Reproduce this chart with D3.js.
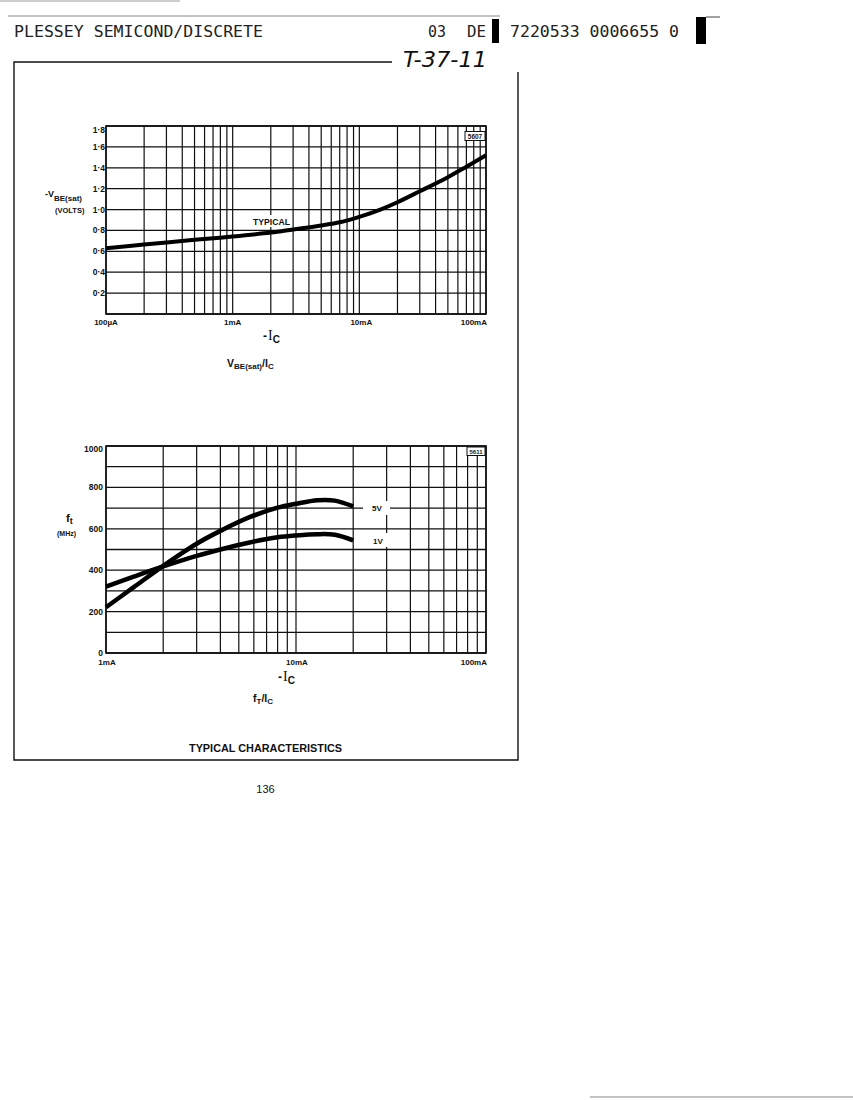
<!DOCTYPE html>
<html>
<head>
<meta charset="utf-8">
<script src="https://d3js.org/d3.v7.min.js"></script>
<style>
  body { margin: 0; background: #fff; }
  text { fill: #111; }
  .lbl { font-family: "Liberation Sans", Arial, sans-serif; font-weight: bold; }
  .hdr { font-family: "DejaVu Sans Mono", "Liberation Mono", monospace; fill: #222; }
</style>
</head>
<body>
<svg id="page" width="853" height="1100"></svg>
<script>
// ---- data ----
// V_BE(sat) vs I_C (current in mA)
const vbeCurrent = [0.1, 0.2, 0.5, 1, 2, 3, 5, 7, 10, 15, 20, 30, 50, 70, 100];
const vbeSat     = [0.63, 0.665, 0.71, 0.742, 0.78, 0.81, 0.848, 0.878, 0.93, 1.005, 1.07, 1.175, 1.31, 1.41, 1.52];

// fT vs I_C (current in mA)
const ftCurrent = [1, 1.4, 2, 3, 4, 5.7, 8, 10, 13, 16, 20];
const ft5V      = [221, 318, 421, 528, 590, 656, 702, 721, 738, 736, 708];
const ft1V      = [321, 369, 418, 469, 500, 534, 559, 568, 574, 571, 544];

// axis ticks / labels
const vbeTicks  = [0.2, 0.4, 0.6, 0.8, 1.0, 1.2, 1.4, 1.6, 1.8];
const vbeTickLabels = ["0·2", "0·4", "0·6", "0·8", "1·0", "1·2", "1·4", "1·6", "1·8"];
const vbeGridY  = [0, 0.2, 0.4, 0.6, 0.8, 1.0, 1.2, 1.4, 1.6, 1.8];
const topXTicks = [0.1, 1, 10, 100];
const topXLabels = ["100µA", "1mA", "10mA", "100mA"];

const ftTicks   = [0, 200, 400, 600, 800, 1000];
const ftGridY   = [0, 100, 200, 300, 400, 500, 600, 700, 800, 900, 1000];
const botXTicks = [1, 10, 100];
const botXLabels = ["1mA", "10mA", "100mA"];

const mantissas = [1, 2, 3, 4, 5, 6, 7, 8, 9];

const svg = d3.select("#page");
svg.append("rect").attr("width", 853).attr("height", 1100).attr("fill", "#fff");

// ---- page header ----
svg.append("line").attr("x1", 8).attr("x2", 500).attr("y1", 16).attr("y2", 16)
    .attr("stroke", "#888").attr("stroke-width", 1.2);
svg.append("line").attr("x1", 0).attr("x2", 180).attr("y1", 1).attr("y2", 1)
    .attr("stroke", "#999").attr("stroke-width", 1);

svg.append("text").attr("class", "hdr").attr("x", 14).attr("y", 37)
    .attr("font-size", 16.5).attr("textLength", 249).attr("lengthAdjust", "spacingAndGlyphs")
    .text("PLESSEY SEMICOND/DISCRETE");
svg.append("text").attr("class", "hdr").attr("x", 428).attr("y", 37)
    .attr("font-size", 16.5).attr("textLength", 18).attr("lengthAdjust", "spacingAndGlyphs").text("03");
svg.append("text").attr("class", "hdr").attr("x", 467).attr("y", 37)
    .attr("font-size", 16.5).attr("textLength", 19).attr("lengthAdjust", "spacingAndGlyphs").text("DE");
svg.append("rect").attr("x", 492).attr("y", 19).attr("width", 7).attr("height", 24).attr("fill", "#000");
svg.append("text").attr("class", "hdr").attr("x", 510).attr("y", 37)
    .attr("font-size", 16.5).attr("textLength", 169).attr("lengthAdjust", "spacingAndGlyphs")
    .text("7220533 0006655 0");
svg.append("rect").attr("x", 696).attr("y", 17).attr("width", 10).attr("height", 27).attr("fill", "#000");
svg.append("line").attr("x1", 706).attr("x2", 720).attr("y1", 17).attr("y2", 17)
    .attr("stroke", "#444").attr("stroke-width", 1);

// handwritten reference
svg.append("text").attr("x", 403).attr("y", 67)
    .attr("font-family", "DejaVu Sans, sans-serif").attr("font-style", "oblique")
    .attr("font-size", 22).attr("textLength", 84).attr("lengthAdjust", "spacingAndGlyphs")
    .text("T-37-11");

// ---- frame ----
const frame = svg.append("g").attr("stroke", "#111").attr("stroke-width", 1.4).attr("fill", "none");
frame.append("path").attr("d", "M392,62 H14 V760 H518 V72");

// ---- helpers ----
function logGrid(g, x, y, lo, hi, y0, y1) {
    const vals = [];
    for (let dec = lo; dec < hi; dec *= 10) mantissas.forEach(m => vals.push(m * dec));
    vals.push(hi);
    g.selectAll(null).data(vals).enter().append("line")
        .attr("x1", d => x(d)).attr("x2", d => x(d))
        .attr("y1", y0).attr("y2", y1)
        .attr("stroke", "#111").attr("stroke-width", 1.2);
}

function hGrid(g, x, y, vals, xa, xb) {
    g.selectAll(null).data(vals).enter().append("line")
        .attr("x1", xa).attr("x2", xb)
        .attr("y1", d => y(d)).attr("y2", d => y(d))
        .attr("stroke", "#111").attr("stroke-width", 1.3);
}

// ============ chart 1 : VBE(sat) / IC ============
const c1 = { left: 106, right: 486, top: 126, bottom: 314 };
const x1 = d3.scaleLog().domain([0.1, 100]).range([c1.left, c1.right]);
const y1 = d3.scaleLinear().domain([0, 1.8]).range([c1.bottom, c1.top]);

const g1 = svg.append("g");
logGrid(g1, x1, y1, 0.1, 100, c1.top, c1.bottom);
hGrid(g1, x1, y1, vbeGridY, c1.left, c1.right);
g1.append("rect").attr("x", c1.left).attr("y", c1.top)
    .attr("width", c1.right - c1.left).attr("height", c1.bottom - c1.top)
    .attr("fill", "none").attr("stroke", "#111").attr("stroke-width", 1.6);

// y tick labels
g1.selectAll(null).data(vbeTicks).enter().append("text")
    .attr("class", "lbl").attr("font-size", 8.5).attr("text-anchor", "end")
    .attr("x", c1.left - 1)
    .attr("y", d => Math.max(y1(d), c1.top + 4) + 3)
    .text((d, i) => vbeTickLabels[i]);

// x tick labels
g1.selectAll(null).data(topXTicks).enter().append("text")
    .attr("class", "lbl").attr("font-size", 8)
    .attr("text-anchor", (d, i) => i === topXTicks.length - 1 ? "end" : "middle")
    .attr("x", (d, i) => i === topXTicks.length - 1 ? c1.right + 1 : x1(d) + (i === 2 ? 2 : 0))
    .attr("y", 325)
    .text((d, i) => topXLabels[i]);

// curve
const line1 = d3.line().x(d => x1(d[0])).y(d => y1(d[1])).curve(d3.curveCatmullRom.alpha(0.5));
g1.append("path")
    .attr("d", line1(vbeCurrent.map((c, i) => [c, vbeSat[i]])))
    .attr("fill", "none").attr("stroke", "#000").attr("stroke-width", 4);

// TYPICAL label
g1.append("rect").attr("x", 251).attr("y", 215).attr("width", 40).attr("height", 12).attr("fill", "#fff");
g1.append("text").attr("class", "lbl").attr("font-size", 8.5).attr("x", 253).attr("y", 224.5)
    .attr("textLength", 37).attr("lengthAdjust", "spacingAndGlyphs").text("TYPICAL");

// figure number box
g1.append("rect").attr("x", 465).attr("y", 131.5).attr("width", 20).attr("height", 9)
    .attr("fill", "#fff").attr("stroke", "#111").attr("stroke-width", 1);
g1.append("text").attr("class", "lbl").attr("font-size", 6.5).attr("x", 475).attr("y", 138.5)
    .attr("text-anchor", "middle").text("5607");

// axis titles
const t1 = g1.append("text").attr("class", "lbl").attr("x", 45).attr("y", 197);
t1.append("tspan").attr("font-size", 9).text("-V");
t1.append("tspan").attr("font-size", 8).attr("dy", 4).text("BE(sat)");
g1.append("text").attr("class", "lbl").attr("font-size", 7.5).attr("x", 55).attr("y", 213).text("(VOLTS)");

const ic1 = g1.append("text").attr("x", 263).attr("y", 340);
ic1.append("tspan").attr("class", "lbl").attr("font-size", 12).text("-");
ic1.append("tspan").attr("font-family", "Liberation Serif, serif").attr("font-size", 14).attr("dx", 1).text("I");
ic1.append("tspan").attr("class", "lbl").attr("font-size", 10).attr("dy", 3).text("C");

const cap1 = g1.append("text").attr("class", "lbl").attr("x", 227).attr("y", 367);
cap1.append("tspan").attr("font-size", 10.5).text("V");
cap1.append("tspan").attr("font-size", 8).attr("dy", 2).text("BE(sat)");
cap1.append("tspan").attr("font-size", 10.5).attr("dy", -2).text("/I");
cap1.append("tspan").attr("font-size", 8).attr("dy", 2).text("C");

// ============ chart 2 : fT / IC ============
const c2 = { left: 106, right: 486, top: 446, bottom: 653 };
const x2 = d3.scaleLog().domain([1, 100]).range([c2.left, c2.right]);
const y2 = d3.scaleLinear().domain([0, 1000]).range([c2.bottom, c2.top]);

const g2 = svg.append("g");
logGrid(g2, x2, y2, 1, 100, c2.top, c2.bottom);
hGrid(g2, x2, y2, ftGridY, c2.left, c2.right);
g2.append("rect").attr("x", c2.left).attr("y", c2.top)
    .attr("width", c2.right - c2.left).attr("height", c2.bottom - c2.top)
    .attr("fill", "none").attr("stroke", "#111").attr("stroke-width", 1.6);

g2.selectAll(null).data(ftTicks).enter().append("text")
    .attr("class", "lbl").attr("font-size", 8.5).attr("text-anchor", "end")
    .attr("x", c2.left - 3)
    .attr("y", d => Math.max(y2(d), c2.top + 3) + 3)
    .text(d => d);

g2.selectAll(null).data(botXTicks).enter().append("text")
    .attr("class", "lbl").attr("font-size", 8)
    .attr("text-anchor", (d, i) => i === botXTicks.length - 1 ? "end" : "middle")
    .attr("x", (d, i) => i === botXTicks.length - 1 ? c2.right + 1 : x2(d) + 1)
    .attr("y", 665)
    .text((d, i) => botXLabels[i]);

const line2 = d3.line().x(d => x2(d[0])).y(d => y2(d[1])).curve(d3.curveCatmullRom.alpha(0.5));
[ft5V, ft1V].forEach(series => {
    g2.append("path")
        .attr("d", line2(ftCurrent.map((c, i) => [c, series[i]])))
        .attr("fill", "none").attr("stroke", "#000").attr("stroke-width", 4.5);
});

// series labels with white knock-out boxes
g2.append("rect").attr("x", 363).attr("y", 501).attr("width", 27).attr("height", 14).attr("fill", "#fff");
g2.append("rect").attr("x", 363).attr("y", 533).attr("width", 28).attr("height", 14).attr("fill", "#fff");
g2.append("text").attr("class", "lbl").attr("font-size", 8).attr("x", 372).attr("y", 511).text("5V");
g2.append("text").attr("class", "lbl").attr("font-size", 8).attr("x", 373).attr("y", 544).text("1V");

g2.append("rect").attr("x", 467).attr("y", 447).attr("width", 18).attr("height", 8.5)
    .attr("fill", "#fff").attr("stroke", "#111").attr("stroke-width", 1);
g2.append("text").attr("class", "lbl").attr("font-size", 6).attr("x", 476).attr("y", 453.5)
    .attr("text-anchor", "middle").text("5611");

const t2 = g2.append("text").attr("class", "lbl").attr("x", 66).attr("y", 522);
t2.append("tspan").attr("font-size", 11.5).text("f");
t2.append("tspan").attr("font-size", 9).attr("dy", 2).text("t");
g2.append("text").attr("class", "lbl").attr("font-size", 7).attr("x", 57).attr("y", 536).text("(MHz)");

const ic2 = g2.append("text").attr("x", 278).attr("y", 681);
ic2.append("tspan").attr("class", "lbl").attr("font-size", 12).text("-");
ic2.append("tspan").attr("font-family", "Liberation Serif, serif").attr("font-size", 14).attr("dx", 1).text("I");
ic2.append("tspan").attr("class", "lbl").attr("font-size", 10).attr("dy", 3).text("C");

const cap2 = g2.append("text").attr("class", "lbl").attr("x", 253).attr("y", 702);
cap2.append("tspan").attr("font-size", 10.5).text("f");
cap2.append("tspan").attr("font-size", 8).attr("dy", 2).text("T");
cap2.append("tspan").attr("font-size", 10.5).attr("dy", -2).text("/I");
cap2.append("tspan").attr("font-size", 8).attr("dy", 2).text("C");

// ---- footer ----
svg.append("text").attr("class", "lbl").attr("font-size", 10).attr("x", 265.5).attr("y", 752)
    .attr("text-anchor", "middle").attr("textLength", 153).attr("lengthAdjust", "spacingAndGlyphs")
    .text("TYPICAL CHARACTERISTICS");
svg.append("text").attr("font-family", "Liberation Sans, sans-serif")
    .attr("font-size", 11).attr("x", 265.5).attr("y", 793).attr("text-anchor", "middle").text("136");

svg.append("line").attr("x1", 590).attr("x2", 853).attr("y1", 1097).attr("y2", 1097)
    .attr("stroke", "#888").attr("stroke-width", 1);
</script>
</body>
</html>
